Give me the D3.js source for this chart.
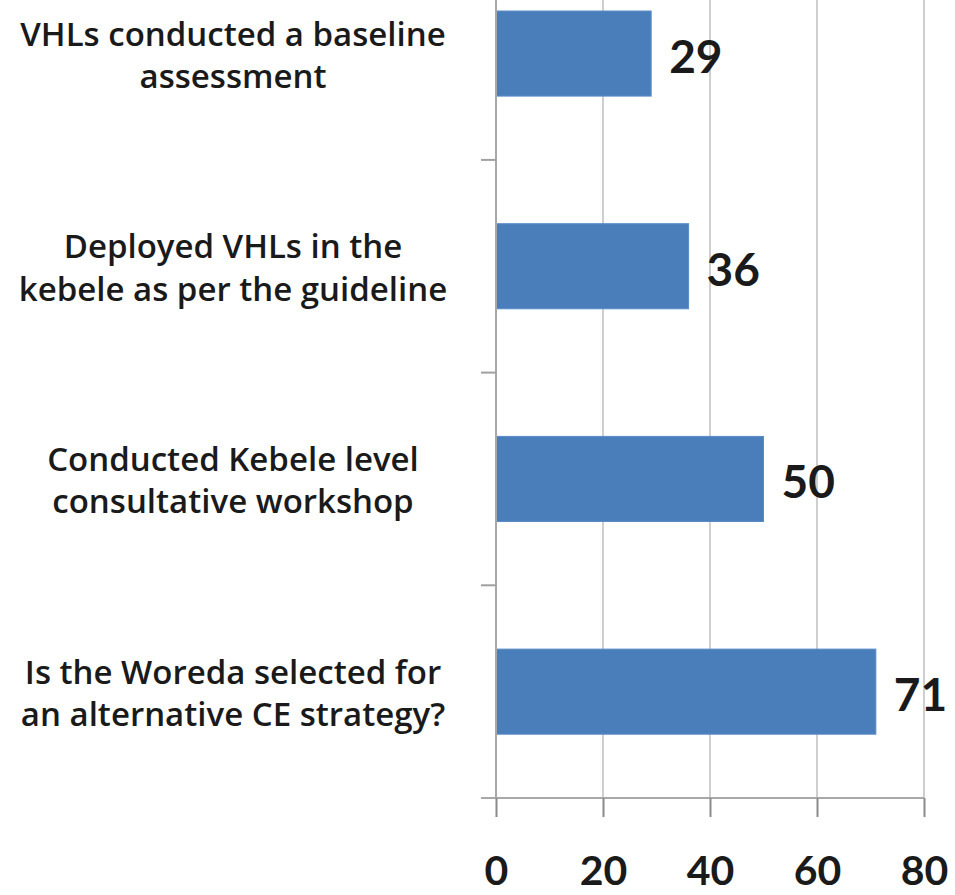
<!DOCTYPE html>
<html>
<head>
<meta charset="utf-8">
<script src="https://cdn.jsdelivr.net/npm/d3@7"></script>
<style>
  html, body { margin: 0; padding: 0; background: #fff; }
  svg { display: block; }
  text { font-family: Lato, "Open Sans", sans-serif; font-weight: 700; fill: #1a1a1a; }
  .cat-label { font-family: "Open Sans", Lato, sans-serif; font-weight: 600; }
</style>
</head>
<body>
<svg id="chart"></svg>
<script>
// category labels, top to bottom, already split the way the chart wraps them
const categories = [
  ['VHLs conducted a baseline', 'assessment'],
  ['Deployed VHLs in the', 'kebele as per the guideline'],
  ['Conducted Kebele level', 'consultative workshop'],
  ['Is the Woreda selected for', 'an alternative CE strategy?']
];
const values = [29, 36, 50, 71];
const xTicks = [0, 20, 40, 60, 80];

const width = 955;
const height = 895;
const plotLeft = 496;
const plotRight = 924;
const plotBottom = 798;
const step = 212.7;  // category band height
const plotTop = plotBottom - step * categories.length;

const svg = d3.select('#chart')
    .attr('width', width)
    .attr('height', height);

const x = d3.scaleLinear()
    .domain([0, 80])
    .range([plotLeft, plotRight]);

const y = d3.scaleBand()
    .domain(d3.range(categories.length))
    .range([plotTop, plotBottom])
    .paddingInner(0.6)
    .paddingOuter(0.3);

// vertical gridlines
svg.append('g')
    .attr('class', 'grid')
  .selectAll('line')
  .data(xTicks.filter(d => d > 0))
  .enter().append('line')
    .attr('x1', d => x(d))
    .attr('x2', d => x(d))
    .attr('y1', plotTop)
    .attr('y2', plotBottom)
    .style('stroke', '#cfcfcf')
    .style('stroke-width', 2);

// bars
svg.append('g')
    .attr('class', 'bars')
  .selectAll('rect')
  .data(values)
  .enter().append('rect')
    .attr('x', x(0))
    .attr('y', (d, i) => y(i))
    .attr('width', d => x(d) - x(0))
    .attr('height', y.bandwidth())
    .style('fill', '#4a7ebb')
    .style('stroke', '#5a8cc8')
    .style('stroke-width', 1);

// value labels
svg.append('g')
    .attr('class', 'value-labels')
  .selectAll('text')
  .data(values)
  .enter().append('text')
    .attr('x', d => x(d) + 18)
    .attr('y', (d, i) => y(i) + y.bandwidth() / 2)
    .attr('dy', '0.42em')
    .attr('font-size', 46)
    .text(d => d);

// y axis line and ticks at band boundaries
const yAxis = svg.append('g').attr('class', 'y-axis');
yAxis.append('line')
    .attr('x1', plotLeft)
    .attr('x2', plotLeft)
    .attr('y1', plotTop)
    .attr('y2', plotBottom)
    .style('stroke', '#a8a8a8')
    .style('stroke-width', 2);
yAxis.selectAll('.y-tick')
  .data(d3.range(1, categories.length + 1))
  .enter().append('line')
    .attr('class', 'y-tick')
    .attr('x1', plotLeft - 15)
    .attr('x2', plotLeft)
    .attr('y1', i => plotTop + step * i)
    .attr('y2', i => plotTop + step * i)
    .style('stroke', '#a0a0a0')
    .style('stroke-width', 2);

// category labels
const labels = yAxis.selectAll('.cat-label')
  .data(categories)
  .enter().append('text')
    .attr('class', 'cat-label')
    .attr('text-anchor', 'middle')
    .attr('font-size', 33)
    .attr('y', (d, i) => y(i) + y.bandwidth() / 2);
labels.selectAll('tspan')
  .data(d => d)
  .enter().append('tspan')
    .attr('x', 233)
    .attr('dy', (d, j) => j === 0 ? '-0.24em' : '1.28em')
    .text(d => d);

// x axis
const xAxis = svg.append('g')
    .attr('class', 'x-axis')
    .attr('transform', `translate(0,${plotBottom})`)
    .call(d3.axisBottom(x).tickValues(xTicks).tickSize(19).tickSizeOuter(0));
xAxis.select('.domain')
    .attr('d', `M${plotLeft - 15},0H${plotRight}`)
    .style('stroke', '#a8a8a8')
    .style('stroke-width', 2);
xAxis.selectAll('.tick line')
    .style('stroke', '#8a8a8a')
    .style('stroke-width', 2);
xAxis.selectAll('.tick text')
    .attr('y', 87)
    .attr('dy', 0)
    .attr('font-size', 41)
    .style('font-family', 'Lato, "Open Sans", sans-serif')
    .style('font-weight', 700)
    .style('fill', '#1a1a1a');
</script>
</body>
</html>
